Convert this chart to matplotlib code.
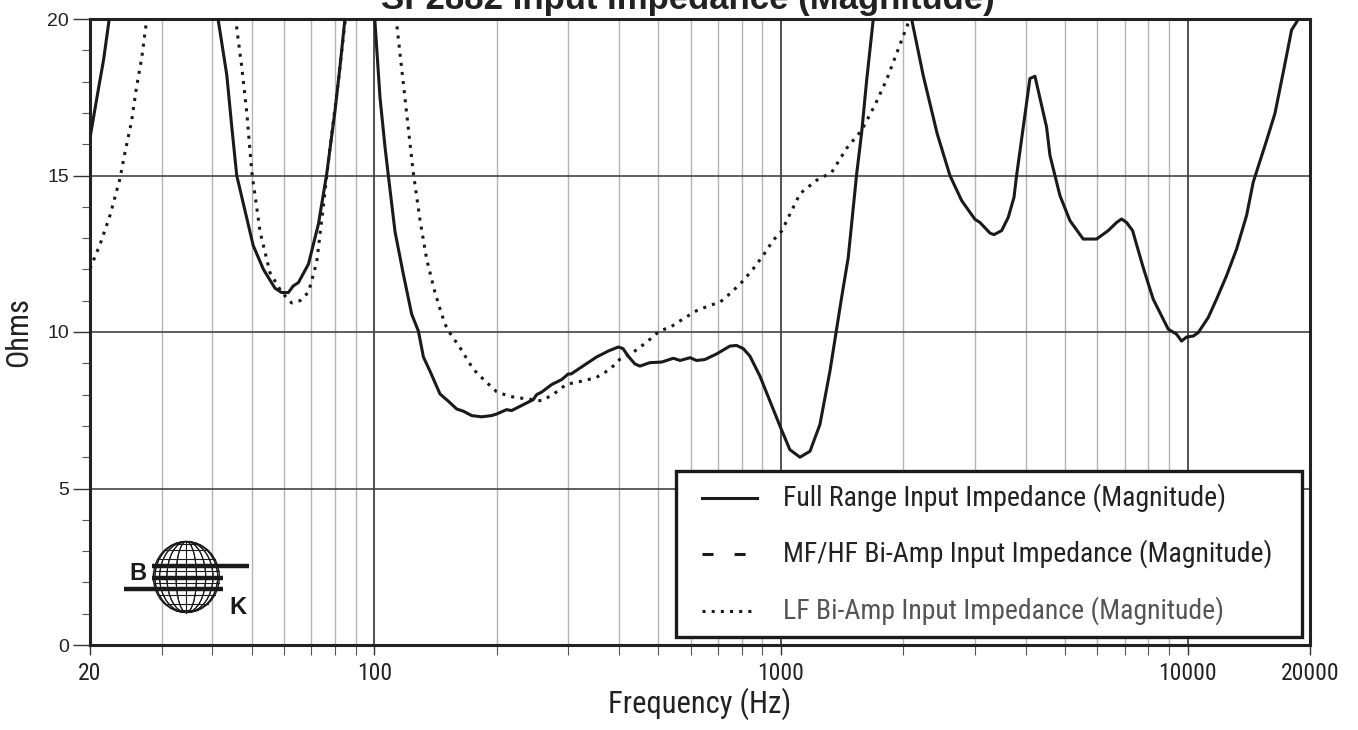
import matplotlib
matplotlib.use("Agg")
import matplotlib.pyplot as plt
import numpy as np
from matplotlib import font_manager
from matplotlib.lines import Line2D
from matplotlib.patches import Ellipse, Rectangle
from matplotlib.ticker import FixedLocator, NullFormatter

# Full range input impedance (values above 20 ohm are off the chart, estimated)
full_freq = [20, 21.0, 21.6, 22.3, 24, 28, 34, 38, 41.3, 43.4, 44.6, 45.9, 50.4, 53.4,
             57.0, 59.2, 61.5, 63.2, 65.1, 68.9, 72.9, 76.4, 80.1, 82.4, 84.7, 90, 96,
             100.3, 103.3, 106.3, 108.3, 112.5, 117.9, 123.6, 128.4, 132.1, 137.1, 145.1,
             152.1, 159.5, 165.6, 173.6, 183.7, 194.4, 200, 211.6, 217.7, 232.7, 246.1,
             250.8, 258, 273, 289, 300, 305, 320.6, 352, 376, 398, 409, 421, 437.6, 450,
             476, 509, 544, 565, 598, 620, 650, 695, 749, 778, 808, 839, 888, 940, 995,
             1052, 1114, 1179, 1247, 1320, 1410, 1464, 1535, 1580, 1625, 1687, 1800, 2000,
             2096, 2238, 2422, 2604, 2782, 3000, 3086, 3266, 3342, 3490, 3622, 3742, 3798,
             3944, 4096, 4214, 4376, 4500, 4588, 4720, 4854, 5136, 5538, 5974, 6382, 6690,
             6880, 7078, 7324, 7778, 8230, 8962, 9396, 9666, 9944, 10326, 10622, 11238,
             11782, 12470, 13198, 13964, 14504, 15642, 16398, 17190, 18020, 18536, 18700,
             20000]
full_ohms = [16.2, 17.8, 18.7, 20.0, 23.5, 27, 27, 24, 20.0, 18.2, 16.6, 15.0, 12.76, 12.0,
             11.4, 11.26, 11.26, 11.47, 11.58, 12.17, 13.45, 15.05, 17.08, 18.5, 20.0, 24, 24,
             20.0, 17.5, 15.9, 15.0, 13.2, 11.85, 10.57, 10.03, 9.2, 8.75, 8.02,
             7.79, 7.54, 7.47, 7.33, 7.29, 7.33, 7.38, 7.52, 7.49, 7.68, 7.84,
             8.0, 8.08, 8.32, 8.48, 8.66, 8.66, 8.85, 9.2, 9.39, 9.52, 9.47, 9.23, 8.98, 8.91,
             9.02, 9.04, 9.16, 9.09, 9.18, 9.09, 9.12, 9.30, 9.55, 9.57, 9.47, 9.23, 8.59, 7.79, 6.99,
             6.24, 6.0, 6.19, 7.04, 8.75, 11.1, 12.38, 15.03, 16.39, 18.04, 20.0, 24, 24,
             20.0, 18.2, 16.34, 15.0, 14.2, 13.6, 13.5, 13.16, 13.11, 13.24, 13.66, 14.3, 15.0,
             16.55, 18.1, 18.17, 17.24, 16.55, 15.64, 15.0, 14.36, 13.56, 12.97, 12.97, 13.24, 13.5,
             13.61, 13.5, 13.24, 12.06, 11.05, 10.09, 9.93, 9.71, 9.84, 9.87, 9.98, 10.46,
             11.05, 11.8, 12.65, 13.72, 14.79, 16.12, 16.98, 18.3, 19.65, 19.9, 20.0,
             22]

# LF bi-amp input impedance
lf_freq = [20, 21.2, 22.4, 23.7, 24.4, 25.3, 26.0, 26.8, 27.5, 30, 40, 44, 45.6, 47.2, 48.6,
           50.0, 52.4, 55.4, 59.2, 62.6, 65.7, 68.9, 72.2, 75.0, 77.8, 81.6, 84.7, 90, 105,
           113.5, 119, 124.7, 129.6, 134.5, 137.1, 141, 145.1, 149.2, 152.1, 162.5, 175.2,
           187.2, 200, 215.6, 234.9, 258, 275.6, 297, 327, 352, 380, 402, 433, 467, 504, 534,
           575, 620, 669, 708, 756, 808, 855, 905, 957, 1004, 1114, 1224, 1333, 1451, 1580,
           1703, 1819, 1962, 2056, 2096, 2300, 3000]
lf_ohms = [12.02, 12.82, 13.73, 14.9, 15.76, 16.72, 17.79, 18.75, 19.87, 24, 26, 23, 20.0, 18.5, 17.0,
           15.1, 13.2, 11.9, 11.27, 10.93, 11.0, 11.27, 12.23, 14.05, 15.87, 18.0, 19.87, 25, 25,
           19.87, 17.47, 15.1, 13.57, 12.34, 11.9, 11.27, 10.74, 10.26, 10.04, 9.5, 8.81,
           8.44, 8.09, 7.94, 7.87, 7.80, 8.01, 8.33, 8.44, 8.55, 8.81, 9.13, 9.35, 9.67, 10.04, 10.15,
           10.42, 10.68, 10.85, 10.95, 11.27, 11.64, 12.02, 12.45, 12.93, 13.22, 14.42, 14.85, 15.1, 15.87, 16.45,
           17.25, 18.06, 19.18, 19.87, 20.0, 22, 26]

x_ticks = [20, 100, 1000, 10000, 20000]
x_ticklabels = ["20", "100", "1000", "10000", "20000"]
y_ticks = [0, 5, 10, 15, 20]

legend_labels = ["Full Range Input Impedance (Magnitude)",
                 "MF/HF Bi-Amp Input Impedance (Magnitude)",
                 "LF Bi-Amp Input Impedance (Magnitude)"]

installed = {f.name for f in font_manager.fontManager.ttflist}


def pick(*names):
    return [n for n in names if n in installed] + ["DejaVu Sans"]


NARROW = pick("Liberation Sans Narrow", "Roboto Condensed", "Roboto")
ARIAL = pick("Liberation Sans")

W, H = 1358, 730
fig = plt.figure(figsize=(W / 100, H / 100), dpi=100)
ax = fig.add_axes([90 / W, 1 - 645 / H, 1220 / W, 626 / H])

ax.plot(full_freq, full_ohms, color="#1a1a1a", lw=2.2, solid_joinstyle="round", zorder=3)
ax.plot(lf_freq, lf_ohms, color="#1a1a1a", lw=2.2, linestyle=(0, (1, 2)), zorder=3)

ax.set_xscale("log")
ax.set_xlim(20, 20000)
ax.set_ylim(0, 20)

# grid: light minor verticals, dark decades and horizontals
minor_x = [m * 10 ** d for d in range(1, 5) for m in range(2, 10) if 20 < m * 10 ** d < 20000]
for xv in minor_x:
    ax.axvline(xv, color="#b4b4b4", lw=1.0, zorder=1)
for xv in [100, 1000, 10000]:
    ax.axvline(xv, color="#333333", lw=1.2, zorder=1)
for yv in [5, 10, 15]:
    ax.axhline(yv, color="#444444", lw=1.2, zorder=1)

ax.xaxis.set_major_locator(FixedLocator(x_ticks))
ax.set_xticklabels(x_ticklabels, fontfamily=NARROW, fontsize=17, color="#222222")
ax.xaxis.set_minor_locator(FixedLocator(minor_x))
ax.xaxis.set_minor_formatter(NullFormatter())
ax.tick_params(axis="x", which="major", length=7, width=1.0, pad=5, color="#333333")
ax.tick_params(axis="x", which="minor", length=7, width=0.8, color="#555555")

ax.set_yticks(y_ticks)
ax.set_yticklabels([str(v) for v in y_ticks], fontfamily=ARIAL, fontsize=14, color="#222222")
ax.set_yticks(np.arange(0, 21, 1), minor=True)
ax.tick_params(axis="y", which="major", length=12, width=1.0, pad=3, color="#333333")
ax.tick_params(axis="y", which="minor", length=6, width=0.8, color="#555555")

ax.set_xlabel("Frequency (Hz)", fontfamily=NARROW, fontsize=22, color="#222222", labelpad=2)
ax.set_ylabel("Ohms", fontfamily=NARROW, fontsize=22, color="#222222", labelpad=10)

for s in ax.spines.values():
    s.set_linewidth(2.2)
    s.set_color("#222222")

# title, cut off by the top edge as in the source
fig.text(688 / W, 1 - 9 / H, "SF2882 Input Impedance (Magnitude)", ha="center", va="baseline",
         fontfamily=ARIAL, fontsize=25, fontweight="bold", color="#222222")


# legend box drawn by hand
def ax_pt(px, py):
    return (px - 90) / 1220, (645 - py) / 626


x0, y0 = ax_pt(676, 637)
x1, y1 = ax_pt(1302, 471)
ax.add_patch(Rectangle((x0, y0), x1 - x0, y1 - y0, transform=ax.transAxes, facecolor="white",
                       edgecolor="#1a1a1a", lw=2.4, zorder=5))
rows = [498, 554, 611]
styles = ["-", (0, (3.6, 6.9)), (0, (1, 2))]
text_colors = ["#222222", "#222222", "#555555"]
for py, ls, lab, tc in zip(rows, styles, legend_labels, text_colors):
    lx0, ly = ax_pt(702, py)
    lx1, _ = ax_pt(757, py)
    ax.add_line(Line2D([lx0, lx1], [ly, ly], transform=ax.transAxes, color="#1a1a1a", lw=2.2,
                       linestyle=ls, zorder=6))
    tx, _ = ax_pt(783, py)
    ax.text(tx, ly, lab, transform=ax.transAxes, ha="left", va="center", fontfamily=NARROW,
            fontsize=20, color=tc, zorder=6)

# B K globe logo, drawn in a pixel-based inset
lx_a, lx_b, ly_a, ly_b = 118, 258, 536, 620
logo = fig.add_axes([lx_a / W, 1 - ly_b / H, (lx_b - lx_a) / W, (ly_b - ly_a) / H])
logo.set_xlim(lx_a, lx_b)
logo.set_ylim(ly_b, ly_a)
logo.axis("off")
cx, cy, rx, ry = 186.3, 577, 33, 35.5
logo.add_patch(Ellipse((cx, cy), 2 * rx, 2 * ry, facecolor="white", edgecolor="#1a1a1a", lw=1.0))
for th in np.linspace(-np.pi / 2, np.pi / 2, 11)[1:-1]:
    w = 2 * rx * abs(np.sin(th))
    if w < 1:
        logo.plot([cx, cx], [cy - ry, cy + ry], color="#1a1a1a", lw=0.8)
    else:
        logo.add_patch(Ellipse((cx, cy), w, 2 * ry, facecolor="none", edgecolor="#1a1a1a", lw=0.8))
for ph in np.linspace(-np.pi / 2, np.pi / 2, 10)[1:-1]:
    yy = cy + ry * np.sin(ph)
    hw = rx * np.cos(ph)
    logo.plot([cx - hw, cx + hw], [yy, yy], color="#1a1a1a", lw=0.8)
for xa, xb, yy in [(151.7, 249, 566), (151.7, 223.3, 578.3), (124, 223.3, 589.3)]:
    logo.plot([xa, xb], [yy, yy], color="#1a1a1a", lw=3.2, solid_capstyle="butt")
logo.text(138, 573, "B", ha="center", va="center", fontfamily=ARIAL, fontsize=17,
          fontweight="bold", color="#1a1a1a")
logo.text(237.5, 607, "K", ha="center", va="center", fontfamily=ARIAL, fontsize=17,
          fontweight="bold", color="#1a1a1a")

fig.savefig("out.png", dpi=100)
